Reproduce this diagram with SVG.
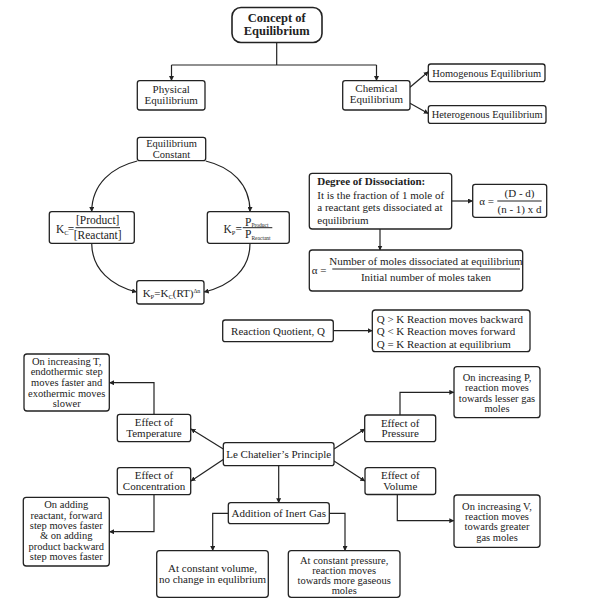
<svg xmlns="http://www.w3.org/2000/svg" width="594" height="609" viewBox="0 0 594 609">
<defs>
<marker id="ah" viewBox="0 0 10 10" refX="9" refY="5" markerWidth="5" markerHeight="5" orient="auto-start-reverse" markerUnits="userSpaceOnUse">
<path d="M0,0 L10,5 L0,10 z" fill="#222"/>
</marker>
<style>
rect.b{fill:#fff;stroke:#222;stroke-width:1.3}
text{font-family:"Liberation Serif","Times New Roman",serif;font-size:11px;fill:#222}
.c{text-anchor:middle}
.m{font-size:10.5px}
.bold{font-weight:bold}
.e path, .e line{fill:none;stroke:#222;stroke-width:1.2}
.a{marker-end:url(#ah)}
line.f{stroke:#222;stroke-width:1}
</style>
</defs>
<rect width="594" height="609" fill="#fff"/>

<g class="e" id="connectors">
<path d="M276.7,42.5 V65 M171.5,65 H376.5"/>
<path class="a" d="M171.5,65 V80.5"/>
<path class="a" d="M376.5,65 V80.5"/>
<path class="a" d="M410,87.3 L428.3,71.7"/>
<path class="a" d="M410,103.3 L428.3,113.5"/>
<path class="a" d="M137.3,161 C112,167 92,184 91.7,211.5"/>
<path class="a" d="M205.7,161 C231,167 250,184 250,211.5"/>
<path class="a" d="M91.7,243.5 C92,270 112,286 136.5,292"/>
<path class="a" d="M250,243.5 C250,270 230,286 204.2,292"/>
<path class="a" d="M451.7,201 H472.5"/>
<path class="a" d="M380,229 V250"/>
<path class="a" d="M333.3,330.7 H372.2"/>
<path class="a" d="M154,414.3 V382.7 H109.5"/>
<path class="a" d="M223.3,449 L191,429"/>
<path class="a" d="M223.3,459.5 L191,481"/>
<path class="a" d="M334,449 L364.8,429"/>
<path class="a" d="M334,461 L364.8,481"/>
<path class="a" d="M400,415 V392.3 H453.8"/>
<path class="a" d="M397.3,494.5 V520.7 H453.8"/>
<path class="a" d="M154,495 V531.7 H109.5"/>
<path class="a" d="M278.7,465.7 V502.7"/>
<path class="a" d="M228.3,513.3 H212.7 V550.5"/>
<path class="a" d="M329.3,513.3 H345 V550.5"/>
</g>

<g id="concept">
<rect x="232" y="7.5" width="90" height="35" rx="9" fill="#fff" stroke="#222" stroke-width="1.6"/>
<text class="c bold" x="276.7" y="21.5" style="font-size:12.5px">Concept of</text>
<text class="c bold" x="276.7" y="35" style="font-size:12.5px">Equilibrium</text>
</g>
<g id="physical">
<rect class="b" x="137.3" y="80.7" width="67.7" height="29.3" rx="2.5"/>
<text class="c" x="171.2" y="93">Physical</text>
<text class="c" x="171.2" y="103.7">Equilibrium</text>
</g>
<g id="chemical">
<rect class="b" x="342.7" y="80.7" width="67.3" height="29.3" rx="2.5"/>
<text class="c" x="376.4" y="92.3">Chemical</text>
<text class="c" x="376.4" y="103.3">Equilibrium</text>
</g>
<g id="homogenous">
<rect class="b" x="428.3" y="64" width="116.7" height="17.7" rx="2.5"/>
<text class="c" x="486.7" y="76.5" textLength="109" lengthAdjust="spacingAndGlyphs">Homogenous Equilibrium</text>
</g>
<g id="heterogenous">
<rect class="b" x="428.3" y="105.7" width="117.7" height="17.7" rx="2.5"/>
<text class="c" x="487.2" y="118.2" textLength="111" lengthAdjust="spacingAndGlyphs">Heterogenous Equilibrium</text>
</g>

<g id="eqconst">
<rect class="b" x="137.3" y="137.3" width="68.4" height="23.4" rx="2.5"/>
<text class="c m" x="171.5" y="147.3">Equilibrium</text>
<text class="c m" x="171.5" y="158.3">Constant</text>
</g>
<g id="kc">
<rect class="b" x="49.3" y="211.7" width="85" height="31.6" rx="2.5"/>
<text x="56" y="232.5" style="font-size:11.5px">K<tspan dy="2.5" style="font-size:6.5px">C</tspan></text>
<text x="67.8" y="232.5" style="font-size:11.5px">=</text>
<line class="f" x1="75.5" y1="227.7" x2="120" y2="227.7"/>
<text class="c" x="97.7" y="223.8" style="font-size:11.5px">[Product]</text>
<text class="c" x="97.7" y="239.3" style="font-size:11.5px">[Reactant]</text>
</g>
<g id="kp">
<rect class="b" x="207.3" y="211.7" width="82" height="31.6" rx="2.5"/>
<text x="223.5" y="232.5" style="font-size:11.5px">K<tspan dy="2.5" style="font-size:6.5px">P</tspan></text>
<text x="235.5" y="232.5" style="font-size:11.5px">=</text>
<line class="f" x1="242.7" y1="227.7" x2="272.3" y2="227.7"/>
<text x="245" y="226.3" style="font-size:11.5px">P<tspan dy="0.8" style="font-size:5.5px">Product</tspan></text>
<text x="245" y="238.3" style="font-size:11.5px">P<tspan dy="1.5" style="font-size:5.5px">Reactant</tspan></text>
</g>
<g id="kpkc">
<rect class="b" x="136.7" y="280.7" width="67.3" height="23.3" rx="2.5"/>
<text class="c" x="171.5" y="296.5">K<tspan dy="2.5" style="font-size:6.5px">P</tspan><tspan dy="-2.5">=K</tspan><tspan dy="2.5" style="font-size:6.5px">C</tspan><tspan dy="-2.5">(RT)</tspan><tspan dy="-4" style="font-size:6px">Δn</tspan></text>
</g>

<g id="degree">
<rect class="b" x="309.3" y="173.3" width="142.4" height="55.7" rx="3"/>
<text class="bold" x="317.3" y="185">Degree of Dissociation:</text>
<text x="317.3" y="198.5">It is the fraction of 1 mole of</text>
<text x="317.3" y="211">a reactant gets dissociated at</text>
<text x="317.3" y="223.5">equilibrium</text>
</g>
<g id="alpha1">
<rect class="b" x="472.7" y="184.3" width="74" height="33" rx="2.5"/>
<text x="479.3" y="205">α =</text>
<line class="f" x1="497.3" y1="201" x2="541.7" y2="201"/>
<text class="c" x="519.5" y="196.5">(D - d)</text>
<text class="c" x="519.5" y="212.7">(n - 1) x d</text>
</g>
<g id="alpha2">
<rect class="b" x="309.3" y="250" width="213.4" height="41" rx="3"/>
<text x="311.7" y="273.5">α =</text>
<line class="f" x1="332.3" y1="269" x2="520" y2="269"/>
<text class="c" x="426" y="264.5">Number of moles dissociated at equilibrium</text>
<text class="c" x="426" y="281">Initial number of moles taken</text>
</g>

<g id="quotient">
<rect class="b" x="222.7" y="320" width="110.6" height="21.7" rx="2.5"/>
<text class="c" x="278" y="334.6">Reaction Quotient, Q</text>
</g>
<g id="qk">
<rect class="b" x="372.3" y="310" width="157.7" height="41.7" rx="3"/>
<text x="376.7" y="322.6">Q &gt; K Reaction moves backward</text>
<text x="376.7" y="335.2">Q &lt; K Reaction moves forward</text>
<text x="376.7" y="347.8">Q = K Reaction at equilibrium</text>
</g>

<g id="tempdesc">
<rect class="b" x="24" y="354" width="85.3" height="57" rx="3"/>
<text class="c m" x="66.7" y="364.5">On increasing T,</text>
<text class="c m" x="66.7" y="375.3">endothermic step</text>
<text class="c m" x="66.7" y="386">moves faster and</text>
<text class="c m" x="66.7" y="396.7">exothermic moves</text>
<text class="c m" x="66.7" y="407.4">slower</text>
</g>
<g id="temp">
<rect class="b" x="117.3" y="414.3" width="73.4" height="27.4" rx="2.5"/>
<text class="c" x="154" y="426.4">Effect of</text>
<text class="c" x="154" y="437.1">Temperature</text>
</g>
<g id="lechatelier">
<rect class="b" x="223.3" y="442.7" width="110.7" height="23" rx="2.5"/>
<text class="c" x="278.7" y="457.8">Le Chatelier’s Principle</text>
</g>
<g id="conc">
<rect class="b" x="117.3" y="467.7" width="73.4" height="27" rx="2.5"/>
<text class="c" x="154" y="478.8">Effect of</text>
<text class="c" x="154" y="489.5">Concentration</text>
</g>
<g id="pressure">
<rect class="b" x="364.7" y="415" width="71" height="26.7" rx="2.5"/>
<text class="c" x="400.2" y="426.6">Effect of</text>
<text class="c" x="400.2" y="437.2">Pressure</text>
</g>
<g id="volume">
<rect class="b" x="365" y="467.7" width="70.7" height="26.8" rx="2.5"/>
<text class="c" x="400.3" y="478.8">Effect of</text>
<text class="c" x="400.3" y="489.5">Volume</text>
</g>
<g id="pressdesc">
<rect class="b" x="454" y="366.7" width="86" height="51" rx="3"/>
<text class="c m" x="497" y="380.5">On increasing P,</text>
<text class="c m" x="497" y="391.2">reaction moves</text>
<text class="c m" x="497" y="401.8">towards lesser gas</text>
<text class="c m" x="497" y="411.7">moles</text>
</g>
<g id="inert">
<rect class="b" x="228.3" y="502.7" width="101" height="21" rx="2.5"/>
<text class="c" x="278.8" y="517">Addition of Inert Gas</text>
</g>
<g id="concdesc">
<rect class="b" x="23.3" y="497.3" width="86" height="68.7" rx="3"/>
<text class="c m" x="66.3" y="508">On adding</text>
<text class="c m" x="66.3" y="518.6">reactant, forward</text>
<text class="c m" x="66.3" y="528.8">step moves faster</text>
<text class="c m" x="66.3" y="539">&amp; on adding</text>
<text class="c m" x="66.3" y="549.6">product backward</text>
<text class="c m" x="66.3" y="560.3">step moves faster</text>
</g>
<g id="volumedesc">
<rect class="b" x="454" y="495" width="86" height="52.3" rx="3"/>
<text class="c m" x="497" y="509.7">On increasing V,</text>
<text class="c m" x="497" y="519.9">reaction moves</text>
<text class="c m" x="497" y="530.4">towards greater</text>
<text class="c m" x="497" y="541">gas moles</text>
</g>
<g id="constvol">
<rect class="b" x="156.7" y="550.7" width="111.6" height="46.6" rx="3"/>
<text class="c" x="212.5" y="572">At constant volume,</text>
<text class="c" x="212.5" y="582.8">no change in equlibrium</text>
</g>
<g id="constpress">
<rect class="b" x="288.3" y="550.7" width="111.7" height="46.6" rx="3"/>
<text class="c m" x="344.2" y="563.7">At constant pressure,</text>
<text class="c m" x="344.2" y="573.7">reaction moves</text>
<text class="c m" x="344.2" y="583.7">towards more gaseous</text>
<text class="c m" x="344.2" y="593.7">moles</text>
</g>
</svg>
